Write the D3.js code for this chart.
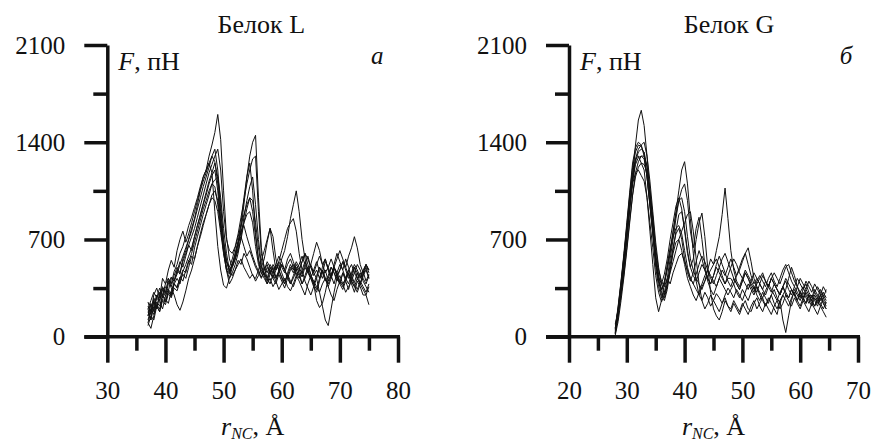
<!DOCTYPE html>
<html>
<head>
<meta charset="utf-8">
<script src="https://cdn.jsdelivr.net/npm/d3@7"></script>
<style>
  body { margin: 0; background: #fff; }
  svg { display: block; }
  text { font-family: "Liberation Serif", "DejaVu Serif", serif; fill: #111; }
</style>
</head>
<body>
<div id="chart"></div>
<script>
// ---- data ----
// panel a: Белок L, r_NC grid 37..75 step 0.5
const rL = [37,37.5,38,38.5,39,39.5,40,40.5,41,41.5,42,42.5,43,43.5,44,44.5,45,45.5,46,46.5,
  47,47.5,48,48.5,49,49.5,50,50.5,51,51.5,52,52.5,53,53.5,54,54.5,55,55.5,56,56.5,
  57,57.5,58,58.5,59,59.5,60,60.5,61,61.5,62,62.5,63,63.5,64,64.5,65,65.5,66,66.5,
  67,67.5,68,68.5,69,69.5,70,70.5,71,71.5,72,72.5,73,73.5,74,74.5,75];

const curvesL = [
  [150,240,180,300,260,350,310,420,380,470, 520,600,650,720,800,860,930,1000,1080,1150,
   1200,1300,1380,1470,1600,1420,1050,720,560,500, 560,640,780,950,1150,1300,1400,1450,1000,640,
   480,520,450,500,430,470,520,480,440,500, 460,520,480,430,500,460,420,480,540,470,
   420,480,400,450,500,430,380,460,420,480, 440,390,460,420,470,400,450],
  [100,180,250,200,320,280,360,330,420,400, 480,450,560,620,700,780,850,950,1050,1120,
   1180,1250,1300,1350,1200,950,700,550,480,520, 580,680,820,1000,1150,1250,1050,750,550,450,
   500,420,380,450,400,480,430,380,460,520, 480,540,500,450,520,580,500,440,480,420,
   500,560,480,420,520,600,540,480,420,380, 450,500,420,380,460,520,480],
  [200,120,280,220,180,300,250,330,290,380, 350,430,400,480,550,520,640,720,800,880,
   950,1020,1100,1080,950,780,620,540,470,520, 560,620,700,820,920,1000,980,820,640,500,
   460,420,500,450,520,480,560,620,720,850, 950,1050,900,700,560,480,520,460,420,500,
   460,540,500,440,380,460,520,480,560,500, 420,500,460,380,440,500,420],
  [250,180,300,350,280,420,380,480,550,500, 620,700,760,680,740,820,900,980,1060,1150,
   1200,1250,1180,900,650,480,370,350,420,500, 560,680,760,800,720,650,580,520,470,430,
   460,400,480,420,380,450,400,350,420,380, 440,500,460,380,420,480,420,360,320,400,
   480,420,360,420,500,460,380,340,400,460, 380,320,400,360,300,300,230],
  [120,200,160,250,220,300,270,240,330,380, 420,380,470,520,580,640,720,800,870,950,
   1020,1100,1160,1200,1050,800,620,500,460,520, 600,680,750,820,880,900,820,650,520,460,
   420,380,450,520,480,540,620,700,780,820, 850,760,600,480,400,350,300,360,420,320,
   220,120,80,200,320,420,380,460,400,340, 420,380,340,400,360,320,380],
  [80,150,120,220,180,260,230,310,280,350, 330,400,450,420,500,580,560,650,740,820,
   880,950,1000,980,900,750,600,480,420,460, 520,600,720,860,980,1080,1150,950,700,520,
   440,380,420,360,400,340,380,420,360,330, 380,440,400,350,300,380,440,400,360,320,
   380,420,360,300,260,340,400,380,320,360, 400,360,320,380,340,300,360],
  [200,260,320,280,350,300,380,420,350,300, 230,190,250,330,420,480,560,650,720,800,
   880,950,1020,1050,980,820,650,480,380,420, 480,550,520,600,560,500,440,420,480,550,
   620,700,780,720,560,480,420,380,450,400, 360,420,480,540,600,520,450,380,260,210,
   240,320,420,500,460,400,440,380,420,480, 520,460,420,380,440,480,420],
  [150,230,190,280,250,200,290,340,310,400, 450,520,580,640,700,760,840,920,1000,1080,
   1150,1220,1300,1260,1100,850,600,480,450,520, 600,680,720,650,580,620,560,500,460,420,
   480,540,500,460,520,580,540,480,560,600, 540,480,520,580,520,460,520,600,680,620,
   520,560,480,420,500,560,620,560,500,580, 640,720,640,520,460,520,480],
  [100,60,150,230,200,270,250,320,300,380, 360,420,480,460,540,600,680,760,840,920,
   980,1050,1100,1130,1150,1000,780,600,480,440, 480,520,560,500,460,420,450,400,440,500,
   560,680,780,620,480,520,460,400,440,380, 420,480,440,380,440,500,450,380,340,420,
   480,420,380,440,500,460,400,360,420,460, 400,360,420,460,400,360,320],
  [180,120,220,300,260,340,290,380,430,400, 470,540,500,580,660,620,720,800,880,960,
   1040,1120,1180,1250,1150,900,680,540,500,560, 640,720,800,880,950,1000,900,720,560,480,
   440,500,460,420,480,540,500,460,520,560, 500,440,480,540,600,560,500,460,520,580,
   520,460,500,560,500,440,480,540,480,420, 460,520,480,430,480,520,460],
  [220,160,260,200,300,360,320,400,360,440, 500,460,540,600,660,720,780,860,940,1020,
   1100,1180,1240,1300,1350,1200,900,700,620,600, 650,740,860,980,1100,1200,1280,1300,900,600,
   500,460,520,480,420,460,520,480,420,480, 520,460,420,480,540,480,420,380,440,500,
   460,400,440,500,460,420,480,540,500,440, 400,460,520,480,420,380,440]
];

// panel б: Белок G, r_NC grid 28..64.5 step 0.5
const rG = [28,28.5,29,29.5,30,30.5,31,31.5,32,32.5,33,33.5,34,34.5,35,35.5,36,36.5,37,37.5,
  38,38.5,39,39.5,40,40.5,41,41.5,42,42.5,43,43.5,44,44.5,45,45.5,46,46.5,47,47.5,
  48,48.5,49,49.5,50,50.5,51,51.5,52,52.5,53,53.5,54,54.5,55,55.5,56,56.5,57,57.5,
  58,58.5,59,59.5,60,60.5,61,61.5,62,62.5,63,63.5,64,64.5];

const curvesG = [
  [30,160,340,520,720,930,1150,1380,1560,1630, 1520,1300,1050,800,560,400,340,380,480,600,
   750,900,1050,1200,1260,1100,850,600,400,300, 260,320,280,220,260,310,280,240,300,350,
   320,280,340,300,260,320,380,340,300,360, 320,280,330,380,340,300,260,320,360,300,
   280,340,300,260,320,280,240,300,260,220, 280,240,200,250],
  [60,220,400,600,820,1040,1250,1360,1400,1380, 1300,1150,950,740,500,360,280,320,420,560,
   700,850,980,1000,900,720,560,480,420,380, 340,400,480,560,520,620,720,880,1070,850,
   620,480,400,360,420,380,340,400,360,320, 380,340,300,360,420,380,340,300,360,400,
   340,300,360,320,280,340,380,320,280,340, 300,260,320,280],
  [20,160,330,520,720,930,1120,1260,1330,1350, 1330,1220,1020,800,560,400,300,260,340,480,
   620,760,880,900,780,620,500,560,700,820, 890,720,500,320,200,150,120,180,260,220,
   180,240,200,160,220,260,200,180,240,280, 220,180,240,200,160,220,260,200,240,300,
   260,220,280,240,200,260,220,180,240,200, 160,220,180,140],
  [50,210,390,580,780,1000,1180,1280,1300,1250, 1200,1000,760,520,280,180,260,380,520,640,
   720,780,800,740,620,500,420,380,340,300, 360,400,440,480,520,560,500,440,380,420,
   420,380,440,500,560,600,640,540,420,360, 300,260,220,280,240,200,160,260,120,30,
   150,260,340,300,260,320,280,240,300,260, 220,280,240,200],
  [90,190,300,450,640,840,1020,1150,1220,1250, 1240,1180,1040,860,640,480,400,360,420,380,
   460,520,580,600,540,480,420,380,450,520, 580,540,480,420,380,440,500,560,600,540,
   480,420,380,340,400,460,420,380,340,400, 440,400,360,420,460,400,360,420,480,520,
   460,400,360,420,380,340,400,360,320,380, 340,300,360,320],
  [30,140,300,490,700,920,1100,1180,1200,1160, 1120,1000,820,640,440,320,250,300,380,460,
   540,620,700,760,820,880,900,760,560,380, 260,200,240,300,260,220,180,240,280,220,
   200,260,220,180,240,200,160,220,260,200, 240,280,220,260,300,240,200,260,300,340,
   420,500,440,360,300,260,320,280,240,300, 260,220,280,240],
  [60,200,380,580,800,1020,1220,1330,1380,1370, 1320,1150,940,740,540,430,380,450,560,700,
   820,940,1000,920,760,600,500,440,400,460, 520,480,420,380,440,500,460,420,380,440,
   500,560,520,460,420,480,440,400,460,420, 380,440,400,360,420,460,420,380,440,500,
   520,460,400,360,420,380,340,400,360,320, 360,320,280,340],
  [10,110,260,430,620,820,1020,1180,1260,1300, 1300,1230,1060,850,600,450,320,280,360,480,
   600,680,700,620,520,420,360,300,260,320, 380,440,480,440,400,360,420,480,440,500,
   560,500,440,480,540,600,520,440,380,420, 380,340,400,360,320,380,340,300,360,320,
   280,340,300,260,320,360,300,260,220,280, 240,300,260,220],
  [40,180,350,540,740,950,1130,1280,1350,1380, 1400,1300,1120,900,680,500,380,300,380,520,
   640,740,780,700,560,460,400,460,540,620, 560,480,420,380,440,520,580,520,460,400,
   360,420,380,340,400,460,420,360,320,380, 420,460,400,360,420,380,340,300,360,420,
   380,340,300,360,320,280,340,300,260,320, 280,340,300,260],
  [20,170,340,530,740,940,1120,1240,1290,1300, 1280,1150,960,760,540,400,340,400,500,620,
   760,880,980,1060,1100,980,760,640,780,860, 700,520,400,340,300,360,420,380,340,300,
   340,380,320,280,340,300,260,320,360,300, 260,320,280,240,300,340,280,240,300,260,
   220,280,320,260,220,280,240,300,260,220, 260,300,240,200]
];

const yTicks = [0, 700, 1400, 2100];
const yMinor = [350, 1050, 1750];
const xTicksL = [30, 40, 50, 60, 70, 80];
const xMinorL = [35, 45, 55, 65, 75];
const xTicksG = [20, 30, 40, 50, 60, 70];
const xMinorG = [25, 35, 45, 55, 65];

// ---- drawing ----
const W = 875, H = 443;
const FONT = '"Liberation Serif", "DejaVu Serif", serif';
const svg = d3.select('#chart').append('svg')
  .attr('width', W).attr('height', H)
  .style('background', '#fff');

const y = d3.scaleLinear().domain([0, 2100]).range([336.7, 45]);

function panel(cfg) {
  const x = d3.scaleLinear().domain(cfg.domain).range(cfg.range);
  const g = svg.append('g');
  const x0 = cfg.range[0];

  // curves
  const line = d3.line().x(d => x(d[0])).y(d => y(d[1]));
  cfg.curves.forEach(vals => {
    g.append('path')
      .datum(cfg.grid.map((r, i) => [r, vals[i]]))
      .attr('d', line)
      .attr('fill', 'none')
      .attr('stroke', '#111')
      .attr('stroke-width', 1)
      .attr('stroke-linejoin', 'round');
  });

  // y axis
  g.append('g').attr('transform', `translate(${x0},0)`)
    .call(d3.axisLeft(y).tickValues(yTicks).tickFormat(d3.format('d'))
      .tickSize(23).tickSizeOuter(0).tickPadding(19));
  g.append('g').attr('transform', `translate(${x0},0)`)
    .call(d3.axisLeft(y).tickValues(yMinor).tickSize(14).tickSizeOuter(0).tickFormat(''))
    .select('.domain').remove();

  // x axis
  const xa = g.append('g').attr('transform', `translate(0,${y(0)})`)
    .call(d3.axisBottom(x).tickValues(cfg.ticks).tickSize(26).tickSizeOuter(0).tickPadding(19));
  g.append('g').attr('transform', `translate(0,${y(0)})`)
    .call(d3.axisBottom(x).tickValues(cfg.minor).tickSize(14).tickSizeOuter(0).tickFormat(''))
    .select('.domain').remove();
  xa.select('.domain').remove();
  g.append('line')
    .attr('x1', x0 - 23).attr('x2', cfg.range[1] + 2)
    .attr('y1', y(0)).attr('y2', y(0))
    .attr('stroke', '#111').attr('stroke-width', 3.5);

  g.selectAll('g').attr('font-family', FONT);
  g.selectAll('.tick line').attr('stroke', '#111').attr('stroke-width', 3.5);
  g.selectAll('.domain').attr('stroke', '#111').attr('stroke-width', 3.5);
  g.selectAll('.tick text')
    .style('font-family', FONT)
    .style('font-size', '25px').attr('fill', '#111');

  // texts
  g.append('text').attr('x', x0 + cfg.titleDx).attr('y', 33)
    .attr('text-anchor', 'middle').style('font-size', '26px').text(cfg.title);

  const fl = g.append('text').attr('x', x0 + 11).attr('y', 70).style('font-size', '26px');
  fl.append('tspan').style('font-style', 'italic').text('F');
  fl.append('tspan').text(', пН');

  g.append('text').attr('x', x0 + cfg.letterDx).attr('y', 64)
    .attr('text-anchor', 'middle').style('font-size', '25px')
    .style('font-style', 'italic').text(cfg.letter);

  const xl = g.append('text')
    .attr('x', (cfg.range[0] + cfg.range[1]) / 2).attr('y', 435)
    .attr('text-anchor', 'middle').style('font-size', '26px');
  xl.append('tspan').style('font-style', 'italic').text('r');
  xl.append('tspan').style('font-style', 'italic').style('font-size', '16px')
    .attr('dy', 4).text('NC');
  xl.append('tspan').attr('dy', -4).text(', Å');
}

panel({
  grid: rL, curves: curvesL, domain: [30, 80], range: [107.3, 398],
  ticks: xTicksL, minor: xMinorL, title: 'Белок L', titleDx: 154, letter: 'а', letterDx: 270
});
panel({
  grid: rG, curves: curvesG, domain: [20, 70], range: [569, 858],
  ticks: xTicksG, minor: xMinorG, title: 'Белок G', titleDx: 160, letter: 'б', letterDx: 277
});
</script>
</body>
</html>
